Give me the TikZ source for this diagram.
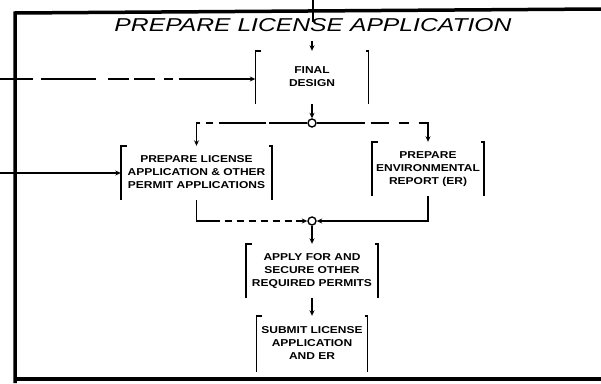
\documentclass[tikz,border=0pt]{standalone}
\usepackage{fontspec}
\setsansfont{Liberation Sans}
\usepackage{graphicx}
\usetikzlibrary{arrows.meta}
\newcommand\bxt[1]{\scalebox{1.2}[1]{\begin{tabular}{@{}c@{}}#1\end{tabular}}}
\newcommand\drawbrackets[1]{%
  \draw[brkline] ([xshift=6pt]#1.north west) -- (#1.north west) -- (#1.south west);
  \draw[brkline] ([xshift=-3pt]#1.north east) -- (#1.north east) -- (#1.south east);}
\begin{document}
\begin{tikzpicture}[x=1pt,y=-1pt,
  conn/.style={line width=1.6pt},
  arr/.style={conn,-{Stealth[length=5.5pt,width=5pt]}},
  box/.style={inner sep=0pt, font=\sffamily\bfseries\fontsize{10}{13}\selectfont},
  junc/.style={circle,draw,line width=1.4pt,fill=white,minimum size=8pt,inner sep=0pt},
  brkline/.style={line width=1.5pt},
  frameline/.style={line width=3.5pt,line join=miter},
]
\useasboundingbox (0,0) rectangle (601,383);

% frame
\coordinate (ftl) at (15,13);
\coordinate (ftr) at (601,9);
\coordinate (fbl) at (15,383);
\coordinate (fbm) at (15,379);
\coordinate (fbr) at (601,379);
\draw[frameline] (ftr) -- (ftl) -- (fbl);
\draw[frameline] (fbm) -- (fbr);

% title
\node (title) at (313,25) {\resizebox{397pt}{13pt}{\sffamily\itshape PREPARE LICENSE APPLICATION}};

% boxes
\node[box, minimum width=113pt, minimum height=53pt] (fd) at (312,77.5) {\bxt{FINAL\\DESIGN}};
\node[box, minimum width=151pt, minimum height=54pt] (pl) at (196.5,173) {\bxt{PREPARE LICENSE\\APPLICATION \& OTHER\\PERMIT APPLICATIONS}};
\node[box, minimum width=112pt, minimum height=54pt] (er) at (428,169) {\bxt{PREPARE\\ENVIRONMENTAL\\REPORT (ER)}};
\node[box, minimum width=132pt, minimum height=54pt] (ap) at (312,271) {\bxt{APPLY FOR AND\\SECURE OTHER\\REQUIRED PERMITS}};
\node[box, minimum width=111pt, minimum height=56pt] (sb) at (312,344) {\bxt{SUBMIT LICENSE\\APPLICATION\\AND ER}};
\drawbrackets{fd}
\drawbrackets{pl}
\drawbrackets{er}
\drawbrackets{ap}
\drawbrackets{sb}

% junctions
\node[junc] (c1) at (312,123) {};
\node[junc] (c2) at (312,221) {};

% inputs
\coordinate (tin) at (313,0);
\coordinate (tend) at (313,22);
\draw[conn] (tin) -- (tend);
\coordinate (tin2) at (312,41);
\draw[arr] (tin2) -- (fd.north);
\coordinate (l1) at (0,79);
\draw[arr, dash pattern=on 33pt off 8pt on 55pt off 12pt on 21pt off 5pt on 21pt off 9pt on 9pt off 6pt on 100pt] (l1) -- (l1 -| fd.west);
\coordinate (l2) at (0,173);
\draw[arr] (l2) -- (pl.west);

% flows
\draw[arr] (fd.south) -- (c1.north);
\draw[arr, dash pattern=on 38pt off 3pt on 47pt off 6pt on 7pt off 6pt on 200pt] (c1.west) -| (pl.north);
\draw[arr, dash pattern=on 48pt off 6pt on 18pt off 10pt on 10pt off 10pt on 200pt] (c1.east) -| (er.north);
\draw[arr, dash pattern=on 44pt off 5pt on 7pt off 5pt on 7pt off 5pt on 7pt off 5pt on 7pt off 5pt on 7pt off 5pt on 7pt off 4pt on 50pt] (pl.south) |- (c2.west);
\draw[arr] (er.south) |- (c2.east);
\draw[arr] (c2.south) -- (ap.north);
\draw[arr] (ap.south) -- (sb.north);
\end{tikzpicture}
\end{document}
